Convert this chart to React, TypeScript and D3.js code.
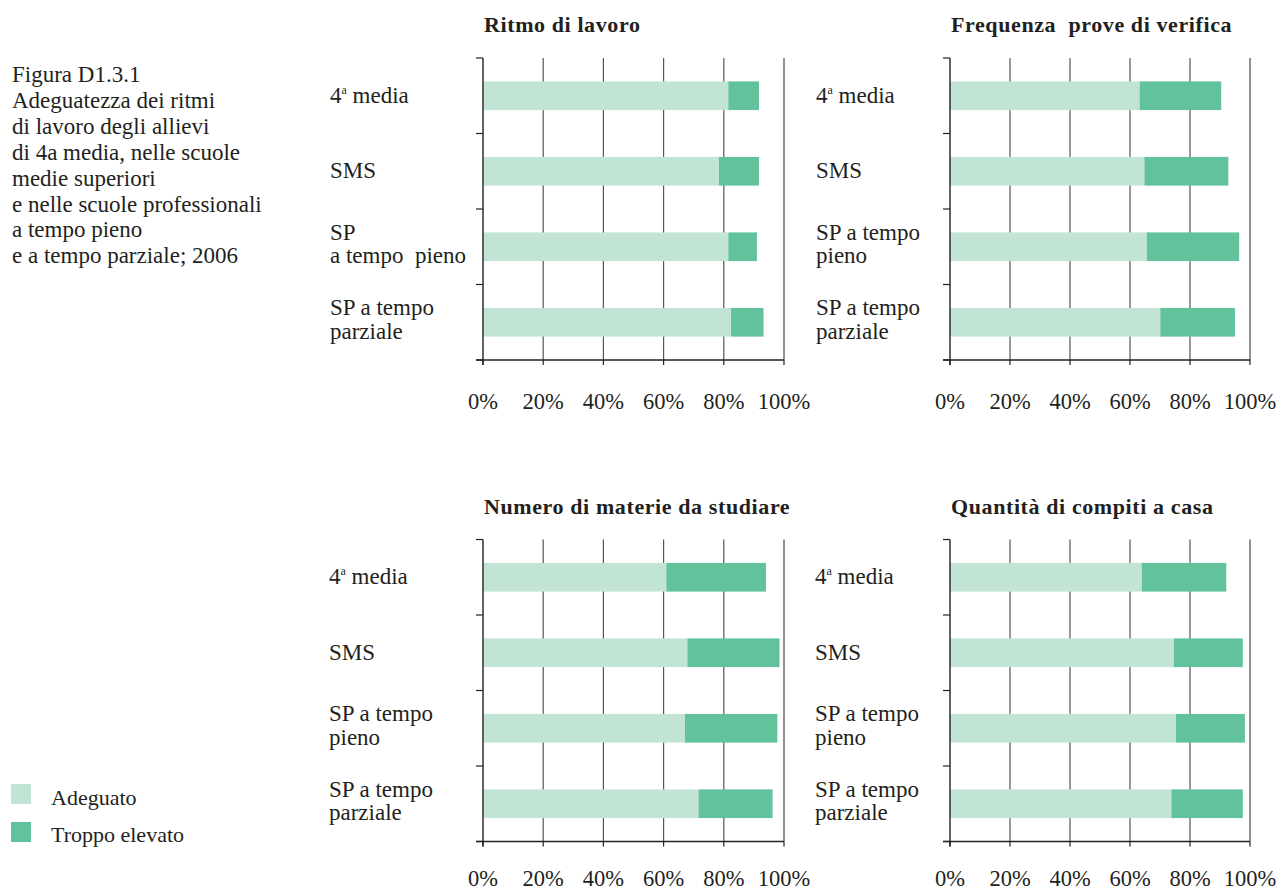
import React from 'react';
import * as d3 from 'd3';

// categories (rows) and the two answer classes
const categories = ['4a media', 'SMS', 'SP a tempo pieno', 'SP a tempo parziale'];
const seriesNames = ['Adeguato', 'Troppo elevato'];
const colors = ['#c2e4d5', '#62c29b'];
const ticks = [0, 20, 40, 60, 80, 100];

const panelTitles = [
  'Ritmo di lavoro',
  'Frequenza  prove di verifica',
  'Numero di materie da studiare',
  'Quantità di compiti a casa',
];

// label line breaks differ a bit between panels
const labelsRitmo = [['4|a| media'], ['SMS'], ['SP', 'a tempo  pieno'], ['SP a tempo', 'parziale']];
const labelsOther = [['4|a| media'], ['SMS'], ['SP a tempo', 'pieno'], ['SP a tempo', 'parziale']];

// percent values
const ritmoAdeguato = [81.5, 78.4, 81.5, 82.4];
const ritmoTroppo = [10.2, 13.3, 9.5, 10.8];
const frequenzaAdeguato = [63.2, 64.8, 65.6, 70.1];
const frequenzaTroppo = [27.2, 28.0, 30.8, 24.9];
const numeroAdeguato = [60.9, 67.9, 67.1, 71.6];
const numeroTroppo = [33.1, 30.6, 30.7, 24.6];
const quantitaAdeguato = [63.9, 74.6, 75.3, 73.8];
const quantitaTroppo = [28.2, 23.0, 23.0, 23.8];

const captionLines = [
  'Figura D1.3.1',
  'Adeguatezza dei ritmi',
  'di lavoro degli allievi',
  'di 4a media, nelle scuole',
  'medie superiori',
  'e nelle scuole professionali',
  'a tempo pieno',
  'e a tempo parziale; 2006',
];

const FONT = '"Liberation Serif", "Times New Roman", serif';
const TEXT = '#231f20';

type PanelProps = {
  title: string;
  labels: string[][];
  adeguato: number[];
  troppo: number[];
  left: number;
  top: number;
  width: number;
  height: number;
  labelX: number;
  tickY: number;
};

function Label({ lines, x, cy }: { lines: string[]; x: number; cy: number }) {
  const offsets = lines.length === 1 ? [7] : [-7, 16.5];
  return (
    <g>
      {lines.map((l, i) => {
        const parts = l.split('|');
        return (
          <text key={i} x={x} y={cy + offsets[i]} fontSize={23} fontFamily={FONT} fill={TEXT} style={{ whiteSpace: 'pre' }}>
            {parts.length === 3 ? (
              <>
                {parts[0]}
                <tspan fontSize={12} dy={-9}>{parts[1]}</tspan>
                <tspan dy={9}>{parts[2]}</tspan>
              </>
            ) : (
              l
            )}
          </text>
        );
      })}
    </g>
  );
}

function Panel(p: PanelProps) {
  const x = d3.scaleLinear().domain([0, 100]).range([p.left, p.left + p.width]);
  const y = d3
    .scaleBand<string>()
    .domain(categories)
    .range([p.top, p.top + p.height])
    .paddingInner(0.62)
    .paddingOuter(0.31);
  const step = y.step();
  const rows = categories.map((c, i) => ({ cat: c, Adeguato: p.adeguato[i], 'Troppo elevato': p.troppo[i] }));
  const stacked = d3.stack<any>().keys(seriesNames)(rows);
  const bottom = p.top + p.height;
  const boundaries = d3.range(categories.length + 1).map((i) => p.top + i * step);

  return (
    <g>
      <text
        x={p.left + 1}
        y={p.top - 26}
        fontSize={22}
        fontWeight="bold"
        fontFamily={FONT}
        fill={TEXT}
        letterSpacing={0.6}
        style={{ whiteSpace: 'pre' }}
      >
        {p.title}
      </text>
      {ticks.slice(1).map((t) => (
        <line key={t} x1={x(t)} x2={x(t)} y1={p.top} y2={bottom} stroke={t === 100 ? '#777' : '#555'} strokeWidth={t === 100 ? 1.6 : 1.2} />
      ))}
      {stacked.map((s, si) =>
        s.map((d, i) => (
          <rect
            key={si + '-' + i}
            x={x(d[0])}
            y={y(categories[i])!}
            width={x(d[1]) - x(d[0])}
            height={y.bandwidth()}
            fill={colors[si]}
          />
        ))
      )}
      <line x1={p.left} x2={p.left} y1={p.top} y2={bottom + 5} stroke="#222" strokeWidth={1.4} />
      <line x1={p.left - 7} x2={p.left + p.width} y1={bottom} y2={bottom} stroke="#222" strokeWidth={1.4} />
      {boundaries.map((b, i) => (
        <line key={i} x1={p.left - 7} x2={p.left} y1={b} y2={b} stroke="#222" strokeWidth={1.2} />
      ))}
      {ticks.map((t) => (
        <g key={t}>
          <line x1={x(t)} x2={x(t)} y1={bottom} y2={bottom + 5} stroke="#222" strokeWidth={1.2} />
          <text x={x(t)} y={bottom + p.tickY} textAnchor="middle" fontSize={22.5} fontFamily={FONT} fill={TEXT}>
            {t + '%'}
          </text>
        </g>
      ))}
      {categories.map((c, i) => (
        <Label key={c} lines={p.labels[i]} x={p.labelX} cy={y(c)! + y.bandwidth() / 2} />
      ))}
    </g>
  );
}

export default function App() {
  return (
    <svg width={1277} height={890} style={{ position: 'absolute', left: 0, top: 0, background: '#fff' }}>
      {captionLines.map((l, i) => (
        <text key={i} x={12} y={82 + i * 25.9} fontSize={23} fontFamily={FONT} fill={TEXT}>
          {l}
        </text>
      ))}
      <Panel title={panelTitles[0]} labels={labelsRitmo} adeguato={ritmoAdeguato} troppo={ritmoTroppo} left={483} top={58} width={301} height={302} labelX={330} tickY={49} />
      <Panel title={panelTitles[1]} labels={labelsOther} adeguato={frequenzaAdeguato} troppo={frequenzaTroppo} left={950} top={58} width={300} height={302} labelX={816} tickY={49} />
      <Panel title={panelTitles[2]} labels={labelsOther} adeguato={numeroAdeguato} troppo={numeroTroppo} left={483} top={539.5} width={301} height={302} labelX={329} tickY={44} />
      <Panel title={panelTitles[3]} labels={labelsOther} adeguato={quantitaAdeguato} troppo={quantitaTroppo} left={950} top={539.5} width={300} height={302} labelX={815} tickY={44} />
      {seriesNames.map((s, i) => (
        <g key={s}>
          <rect x={11} y={784 + i * 38} width={20} height={20} fill={colors[i]} />
          <text x={51} y={805 + i * 37} fontSize={22} fontFamily={FONT} fill={TEXT}>
            {s}
          </text>
        </g>
      ))}
    </svg>
  );
}
